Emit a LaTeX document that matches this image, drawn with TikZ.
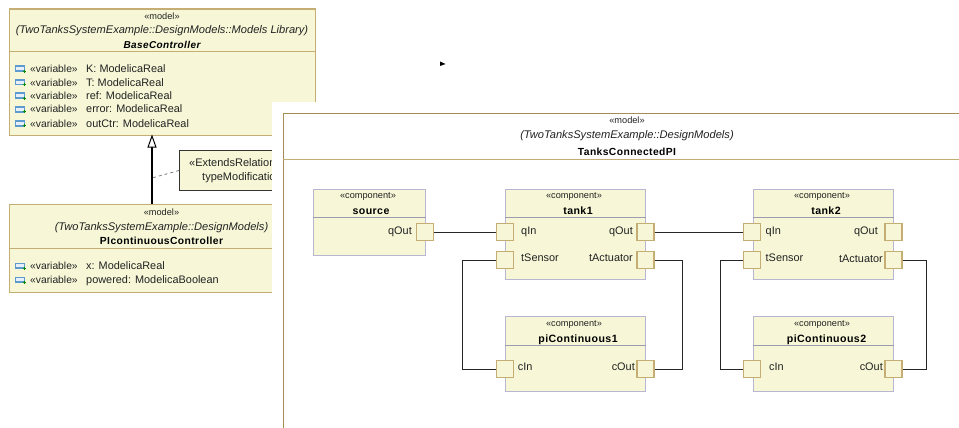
\documentclass[tikz,border=0pt]{standalone}
\usepackage{fontspec}
\setmainfont{Liberation Sans}
\newfontfamily\spbf[LetterSpace=4]{Liberation Sans}
\usetikzlibrary{arrows.meta}
\definecolor{umlfill}{HTML}{F7F7D8}
\definecolor{umlgold}{HTML}{C4AE74}
\definecolor{framegold}{HTML}{A68C55}
\definecolor{complilac}{HTML}{B8B6D0}
\definecolor{inkgray}{HTML}{222222}
\definecolor{iconblue}{HTML}{5B9BD0}
\tikzset{
  txt/.style={inner sep=0pt,text height=7pt,text depth=0pt,text=inkgray,font=\fontsize{10.9}{12}\selectfont},
  txtl/.style={txt,anchor=west},
  txtr/.style={txt,anchor=east},
  stereotxt/.style={txtl,font=\fontsize{10.3}{12}\selectfont},
  stereo/.style={txt,font=\fontsize{9.2}{10}\selectfont},
  pathtxt/.style={txt,font=\fontsize{11.1}{12}\selectfont\itshape},
  nametxt/.style={txt,text=black,font=\fontsize{10.3}{12}\spbf\bfseries},
  modelbox/.style={draw=umlgold,fill=umlfill,line width=1.2pt,inner sep=0pt,anchor=north west},
  compbox/.style={draw=complilac,fill=umlfill,line width=1.1pt,inner sep=0pt,anchor=north west},
  portbox/.style={draw=umlgold,fill=umlfill,line width=1.3pt,inner sep=0pt,minimum width=17pt,minimum height=17pt},
  divider/.style={draw=umlgold,line width=.9pt},
  compdiv/.style={draw=complilac!85!black,line width=.8pt},
  wire/.style={draw=black!85,line width=.9pt}
}
\newcommand{\varicon}[2]{%
  \fill[iconblue] (#1,#2-3.5) rectangle (#1+10,#2+3);
  \fill[white!85!iconblue] (#1+1.2,#2-1.6) rectangle (#1+8.8,#2+1.4);
  \draw[green!55!black,line width=.7pt] (#1+8,#2+2.3) -- (#1+11,#2+2.3) (#1+9.5,#2+.8) -- (#1+9.5,#2+3.8);
}
\begin{document}
\begin{tikzpicture}[x=1pt,y=-1pt]
\useasboundingbox (0,0) rectangle (959,428);
\fill[white] (0,0) rectangle (959,428);
% BaseController
\node[modelbox,minimum width=306pt,minimum height=126pt] (base) at (9,8.5) {};
\draw[divider] (base.west |- 0,51.5) -- (base.east |- 0,51.5);
\node[stereo] (bm) at (162,16) {«model»};
\node[pathtxt] (bp) at (162,30) {(TwoTanksSystemExample::DesignModels::Models Library)};
\node[nametxt,font=\fontsize{10}{12}\spbf\bfseries\itshape] (bn) at (162,45) {BaseController};
\foreach \yy/\nm/\tx in {69/a/K: ModelicaReal,82.5/b/T: ModelicaReal,96/c/ref: ModelicaReal,109.5/d/error: ModelicaReal,123.5/e/outCtr: ModelicaReal}{
  \varicon{15}{\yy}
  \node[stereotxt] (bs\nm) at (30,\yy) {«variable»};
  \node[txtl] (bv\nm) at (86,\yy) {\tx};
}
% PIcontinuousController
\node[modelbox,minimum width=306pt,minimum height=88pt] (pi) at (9,204) {};
\draw[divider] (pi.west |- 0,248) -- (pi.east |- 0,248);
\node[stereo] (pm) at (161.5,212) {«model»};
\node[pathtxt] (pp) at (161.5,226.5) {(TwoTanksSystemExample::DesignModels)};
\node[nametxt] (pn) at (161.5,241) {PIcontinuousController};
\foreach \yy/\nm/\tx in {266/a/x: ModelicaReal,280/b/powered: ModelicaBoolean}{
  \varicon{15}{\yy}
  \node[stereotxt] (ps\nm) at (30,\yy) {«variable»};
  \node[txtl] (pv\nm) at (86,\yy) {\tx};
}
% generalisation
\coordinate (gensrc) at (152,204);
\coordinate (gentip) at (152,134.5);
\coordinate (notefoot) at (152,178);
\draw[black,line width=1.5pt,-{Triangle[open,length=13pt,width=9pt,line width=1pt]}] (gensrc) -- (gentip);
% note
\node[draw=black!80,fill=umlfill,line width=.9pt,inner sep=0pt,anchor=north west,minimum width=120pt,minimum height=40pt] (note) at (179,150) {};
\draw[gray,dashed,line width=.8pt] (note.west) -- (notefoot);
\node[txtl,font=\fontsize{11}{12}\selectfont] (n1) at (189,163) {«ExtendsRelation};
\node[txtl,font=\fontsize{11}{12}\selectfont] (n2) at (202,177) {typeModification};
% white sheet and frame
\fill[white] (272,102) rectangle (959,428);
\coordinate (ftl) at (283,113);
\coordinate (ftr) at (960,113);
\coordinate (fbl) at (283,429);
\coordinate (fhl) at (283,159);
\coordinate (fhr) at (960,159);
\draw[framegold,line width=.9pt] (fbl) -- (ftl) -- (ftr);
\draw[umlgold,line width=1pt] (fhl) -- (fhr);
\node[stereo] (fm) at (627,120) {«model»};
\node[pathtxt] (fp) at (627,135.5) {(TwoTanksSystemExample::DesignModels)};
\node[nametxt] (fn) at (627,151.5) {TanksConnectedPI};
% components
\node[compbox,minimum width=112pt,minimum height=66.5pt] (source) at (312.5,188.5) {};
\node[compbox,minimum width=140pt,minimum height=90pt] (tank1) at (505,188.5) {};
\node[compbox,minimum width=140.5pt,minimum height=90pt] (tank2) at (752.5,188.5) {};
\node[compbox,minimum width=140pt,minimum height=74.5pt] (pic1) at (505,316) {};
\node[compbox,minimum width=140.5pt,minimum height=74.5pt] (pic2) at (752.5,316) {};
\foreach \bx in {source,tank1,tank2}{\draw[compdiv] (\bx.west |- 0,217.5) -- (\bx.east |- 0,217.5);}
\foreach \bx in {pic1,pic2}{\draw[compdiv] (\bx.west |- 0,345.5) -- (\bx.east |- 0,345.5);}
\foreach \xx/\nx/\nm/\tx/\yy/\yn in {368/371/s/source/195/211,574/578/t/tank1/195/211,822/826/u/tank2/195/211,574/578/c/piContinuous1/323/339,822/826.5/d/piContinuous2/323/339}{
  \node[stereo] (st\nm) at (\xx,\yy) {«component»};
  \node[nametxt,font=\fontsize{10.6}{12}\spbf\bfseries] (nm\nm) at (\nx,\yn) {\tx};
}
% ports
\node[portbox] (sqo) at (425,232) {};
\node[portbox] (t1qi) at (504.8,232) {};
\node[portbox] (t1qo) at (645.5,232) {};
\node[portbox] (t1ts) at (504.8,260) {};
\node[portbox] (t1ta) at (645.5,260) {};
\node[portbox] (t2qi) at (752.3,232) {};
\node[portbox] (t2qo) at (893.5,232) {};
\node[portbox] (t2ts) at (752.3,260) {};
\node[portbox] (t2ta) at (893.5,260) {};
\node[portbox] (p1ci) at (504.8,369) {};
\node[portbox] (p1co) at (645.5,369) {};
\node[portbox] (p2ci) at (752.3,369) {};
\node[portbox] (p2co) at (893.5,369) {};
% port labels
\node[txtr] (l1) at (412,230.5) {qOut};
\node[txtl] (l2) at (521,230.5) {qIn};
\node[txtr] (l3) at (633,230.5) {qOut};
\node[txtl] (l4) at (521,258) {tSensor};
\node[txtr] (l5) at (633,258) {tActuator};
\node[txtl] (l6) at (765.5,230.5) {qIn};
\node[txtr] (l7) at (878,230.5) {qOut};
\node[txtl] (l8) at (765.5,258) {tSensor};
\node[txtr] (l9) at (883,259) {tActuator};
\node[txtl] (l10) at (517.7,367) {cIn};
\node[txtr] (l11) at (635,367) {cOut};
\node[txtl] (l12) at (769,367) {cIn};
\node[txtr] (l13) at (883,367) {cOut};
% wires
\draw[wire] (sqo) -- (t1qi);
\draw[wire] (t1qo) -- (t2qi);
\draw[wire] (t1ts.west) -- ++(-33,0) |- (p1ci.west);
\draw[wire] (t1ta.east) -- ++(28,0) |- (p1co.east);
\draw[wire] (t2ts.west) -- ++(-23,0) |- (p2ci.west);
\draw[wire] (t2ta.east) -- ++(23.5,0) |- (p2co.east);
% cursor mark
\fill[black] (440,61.5) -- (445.5,64) -- (440,66) -- cycle;
\end{tikzpicture}
\end{document}
